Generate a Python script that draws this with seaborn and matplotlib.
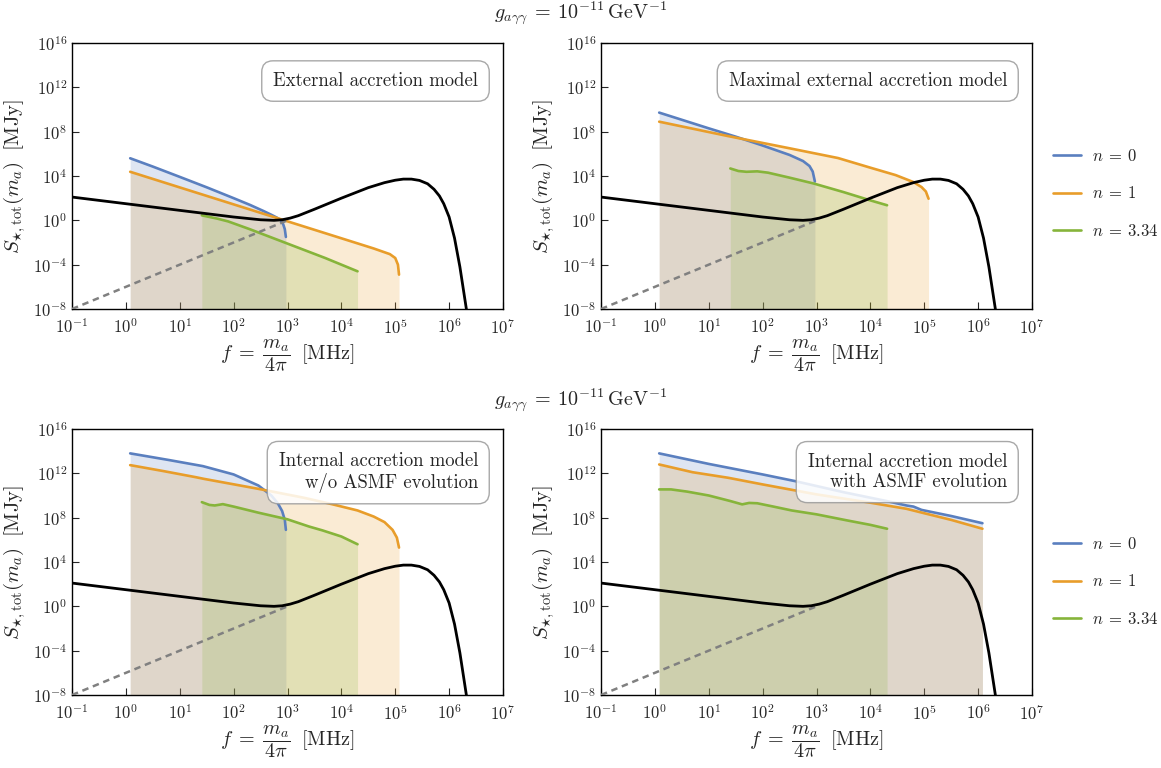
import numpy as np
import pandas as pd
import matplotlib
matplotlib.use("Agg")
import matplotlib.pyplot as plt
import seaborn as sns

# ---------------- data (log10 of values) ----------------
# frequency f [MHz] -> log10 f ; flux S [MJy] -> log10 S
black_logf = [-1.0, 0.0, 1.0, 2.0, 2.5, 2.75, 2.9, 3.05, 3.2, 3.5, 4.0, 4.5, 4.8,
              5.0, 5.15, 5.3, 5.45, 5.6, 5.72, 5.82, 5.9, 6.0, 6.1, 6.2, 6.32]
black_logS = [2.1, 1.5, 0.9, 0.3, 0.05, 0.0, 0.05, 0.2, 0.42, 1.0, 2.0, 2.95, 3.4,
              3.62, 3.72, 3.72, 3.6, 3.3, 2.8, 2.2, 1.5, 0.3, -1.6, -4.2, -8.0]
dash_logf = [-1.0, 3.0]
dash_logS = [-8.0, 0.0]

# Panel 1: external accretion model
ext_n0_logf = [0.08, 0.5, 1.0, 1.5, 2.0, 2.3, 2.55, 2.7, 2.8, 2.87, 2.92, 2.95, 2.97]
ext_n0_logS = [5.6, 4.85, 3.92, 2.98, 2.0, 1.4, 0.85, 0.5, 0.25, 0.05, -0.35, -0.8, -1.5]
ext_n1_logf = [0.08, 1.0, 2.0, 3.0, 4.0, 4.6, 4.9, 5.0, 5.05, 5.07]
ext_n1_logS = [4.38, 2.97, 1.44, -0.09, -1.62, -2.54, -3.05, -3.4, -4.0, -4.9]
ext_n3_logf = [1.41, 1.7, 1.9, 2.3, 3.0, 3.7, 4.3]
ext_n3_logS = [0.45, 0.15, -0.1, -0.8, -2.1, -3.4, -4.6]

# Panel 2: maximal external accretion model
max_n0_logf = [0.08, 1.0, 1.5, 2.0, 2.5, 2.75, 2.87, 2.93, 2.97]
max_n0_logS = [9.72, 8.3, 7.55, 6.75, 5.9, 5.35, 4.9, 4.4, 3.5]
max_n1_logf = [0.08, 1.36, 2.5, 3.4, 4.0, 4.47, 4.8, 4.95, 5.03, 5.08]
max_n1_logS = [8.9, 7.6, 6.5, 5.62, 4.75, 4.08, 3.45, 3.0, 2.6, 1.95]
max_n3_logf = [1.4, 1.55, 1.7, 1.9, 2.1, 2.5, 2.95, 3.5, 4.0, 4.31]
max_n3_logS = [4.68, 4.45, 4.38, 4.42, 4.3, 3.85, 3.32, 2.55, 1.8, 1.36]

# Panel 3: internal accretion model w/o ASMF evolution
int_n0_logf = [0.08, 0.8, 1.43, 2.0, 2.46, 2.7, 2.82, 2.9, 2.95, 2.97]
int_n0_logS = [13.8, 13.2, 12.65, 11.9, 10.9, 10.0, 9.3, 8.6, 7.8, 6.9]
int_n1_logf = [0.08, 0.7, 1.3, 1.45, 2.46, 3.3, 3.84, 4.3, 4.6, 4.8, 4.95, 5.03, 5.07]
int_n1_logS = [12.74, 12.2, 11.65, 11.5, 10.6, 9.8, 9.2, 8.65, 8.1, 7.6, 6.9, 6.2, 5.3]
int_n3_logf = [1.41, 1.55, 1.65, 1.8, 2.0, 2.46, 3.0, 3.4, 3.65, 4.0, 4.3]
int_n3_logS = [9.4, 9.15, 9.1, 9.22, 9.0, 8.45, 7.85, 7.2, 6.85, 6.3, 5.6]

# Panel 4: internal accretion model with ASMF evolution
asm_n0_logf = [0.08, 1.0, 2.0, 2.6, 3.5, 4.3, 4.67, 4.8, 4.95, 5.5, 6.08]
asm_n0_logS = [13.8, 12.85, 11.9, 11.3, 10.3, 9.5, 9.1, 9.0, 8.7, 8.15, 7.5]
asm_n1_logf = [0.08, 0.7, 1.36, 2.0, 3.0, 4.0, 4.67, 5.0, 5.5, 6.08]
asm_n1_logS = [12.8, 12.1, 11.6, 11.0, 10.1, 9.35, 8.8, 8.4, 7.8, 7.0]
asm_n3_logf = [0.08, 0.3, 0.6, 1.0, 1.4, 1.62, 1.75, 1.9, 2.2, 2.54, 3.0, 3.57, 4.0, 4.31]
asm_n3_logS = [10.55, 10.55, 10.35, 10.0, 9.5, 9.2, 9.33, 9.3, 9.0, 8.65, 8.3, 7.75, 7.35, 7.0]

panel_titles = ["External accretion model",
                "Maximal external accretion model",
                "Internal accretion model\nw/o ASMF evolution",
                "Internal accretion model\nwith ASMF evolution"]
series_labels = [r"$n\:=\:0$", r"$n\:=\:1$", r"$n\:=\:3.34$"]
row_title = r"$g_{a\gamma\gamma}\:=\:10^{-11}\,\mathrm{GeV}^{-1}$"
xticks_log = [-1, 0, 1, 2, 3, 4, 5, 6, 7]
yticks_log = [-8, -4, 0, 4, 8, 12, 16]

panels = [
    [(ext_n0_logf, ext_n0_logS), (ext_n1_logf, ext_n1_logS), (ext_n3_logf, ext_n3_logS)],
    [(max_n0_logf, max_n0_logS), (max_n1_logf, max_n1_logS), (max_n3_logf, max_n3_logS)],
    [(int_n0_logf, int_n0_logS), (int_n1_logf, int_n1_logS), (int_n3_logf, int_n3_logS)],
    [(asm_n0_logf, asm_n0_logS), (asm_n1_logf, asm_n1_logS), (asm_n3_logf, asm_n3_logS)],
]

# ---------------- style ----------------
sns.set_style("ticks")
plt.rcParams["font.family"] = ["cmr10", "DejaVu Serif"]
plt.rcParams["mathtext.fontset"] = "cm"
plt.rcParams["axes.formatter.use_mathtext"] = True
plt.rcParams["axes.unicode_minus"] = False

colors = ["#5a7fbf", "#e89d2a", "#86b43a"]
YMIN = 1e-8

fig = plt.figure(figsize=(11.61, 7.68), dpi=100)
W, H = 1161.0, 768.0
ax_w, ax_h = 431 / W, 266 / H
lefts = [72 / W, 601 / W]
bottoms = [(H - 309) / H, (H - 695) / H]
text_y = [0.857, 0.857, 0.838, 0.838]

axes = []
for i in range(4):
    r, c = divmod(i, 2)
    ax = fig.add_axes([lefts[c], bottoms[r], ax_w, ax_h])
    axes.append(ax)
    ax.set_xscale("log")
    ax.set_yscale("log")

    # background curve and dashed line
    bdf = pd.DataFrame({"f": np.power(10.0, black_logf), "S": np.power(10.0, black_logS)})
    sns.lineplot(data=bdf, x="f", y="S", ax=ax, color="black", lw=2.0,
                 estimator=None, sort=False, zorder=5)
    ddf = pd.DataFrame({"f": np.power(10.0, dash_logf), "S": np.power(10.0, dash_logS)})
    sns.lineplot(data=ddf, x="f", y="S", ax=ax, color="#808080", lw=1.8,
                 estimator=None, sort=False, zorder=4, linestyle=(0, (2.6, 1.9)))

    for k, (lf, ls) in enumerate(panels[i]):
        df = pd.DataFrame({"f": np.power(10.0, lf), "S": np.power(10.0, ls)})
        ax.fill_between(df["f"], YMIN, df["S"], color=colors[k], alpha=0.2, lw=0, zorder=1)
        sns.lineplot(data=df, x="f", y="S", ax=ax, color=colors[k], lw=1.9,
                     estimator=None, sort=False, zorder=3, label=series_labels[k])

    if ax.get_legend() is not None:
        ax.get_legend().remove()

    ax.set_xlim(1e-1, 1e7)
    ax.set_ylim(1e-8, 1e16)
    ax.set_xticks([10.0 ** e for e in xticks_log])
    ax.set_yticks([10.0 ** e for e in yticks_log])
    ax.minorticks_off()
    ax.tick_params(direction="in", length=5, width=0.8, labelsize=12,
                   top=False, right=False)
    ax.tick_params(axis="x", pad=6)
    for sp in ax.spines.values():
        sp.set_linewidth(1.0)
        sp.set_color("black")

    ax.set_xlabel(r"$f\;=\;\dfrac{m_a}{4\pi}\;\;[\mathrm{MHz}]$", fontsize=14.5, labelpad=0)
    ax.set_ylabel(r"$S_{\star,\mathrm{tot}}(m_a)\;\;[\mathrm{MJy}]$", fontsize=15, labelpad=4)

    ax.text(0.942, text_y[i], panel_titles[i], transform=ax.transAxes,
            ha="right", va="center", multialignment="right", fontsize=13.5,
            zorder=10,
            bbox=dict(boxstyle="round,pad=0.6", fc="white", ec="#999999",
                      lw=1.0, alpha=0.85))

# row titles
fig.text(0.5, 1 - 13 / H, row_title, ha="center", va="center", fontsize=14.5)
fig.text(0.5, 1 - 400 / H, row_title, ha="center", va="center", fontsize=14.5)

# legends for each row
for ax, yc in [(axes[1], 1 - 193.5 / H), (axes[3], 1 - 581.5 / H)]:
    h, l = ax.get_legend_handles_labels()
    fig.legend(h[-3:], l[-3:], loc="center left", bbox_to_anchor=(1053 / W, yc),
               frameon=False, fontsize=12, handlelength=1.7, handletextpad=0.65,
               labelspacing=1.3, borderpad=0, borderaxespad=0)

fig.savefig("out.png", dpi=100)
